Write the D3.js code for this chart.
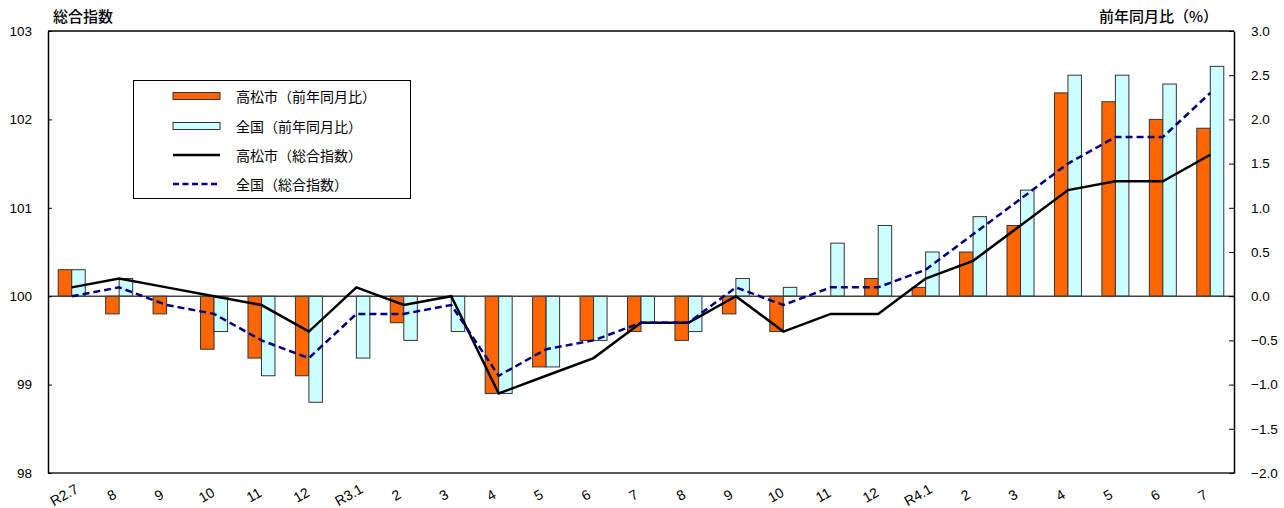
<!DOCTYPE html>
<html><head><meta charset="utf-8">
<script src="https://cdn.jsdelivr.net/npm/d3@7"></script>
<style>
html,body{margin:0;padding:0;background:#fff;}
svg{display:block;}
</style></head>
<body>
<svg id="chart" width="1284" height="508"></svg>
<script>
const categories = ["R2.7","8","9","10","11","12","R3.1","2","3","4","5","6","7","8","9","10","11","12","R4.1","2","3","4","5","6","7"];
const takamatsuYoY = [0.3,-0.2,-0.2,-0.6,-0.7,-0.9,0.0,-0.3,0.0,-1.1,-0.8,-0.5,-0.4,-0.5,-0.2,-0.4,0.0,0.2,0.1,0.5,0.8,2.3,2.2,2.0,1.9];
const nationalYoY = [0.3,0.2,0.0,-0.4,-0.9,-1.2,-0.7,-0.5,-0.4,-1.1,-0.8,-0.5,-0.3,-0.4,0.2,0.1,0.6,0.8,0.5,0.9,1.2,2.5,2.5,2.4,2.6];
const takamatsuIndex = [100.1,100.2,100.1,100.0,99.9,99.6,100.1,99.9,100.0,98.9,99.1,99.3,99.7,99.7,100.0,99.6,99.8,99.8,100.2,100.4,100.8,101.2,101.3,101.3,101.6];
const nationalIndex = [100.0,100.1,99.9,99.8,99.5,99.3,99.8,99.8,99.9,99.1,99.4,99.5,99.7,99.7,100.1,99.9,100.1,100.1,100.3,100.7,101.1,101.5,101.8,101.8,102.3];
const leftTicks = [98,99,100,101,102,103];
const rightTicks = [-2.0,-1.5,-1.0,-0.5,0.0,0.5,1.0,1.5,2.0,2.5,3.0];
const legendLabels = ["高松市（前年同月比）","全国（前年同月比）","高松市（総合指数）","全国（総合指数）"];

const L = 48, R = 1234, T = 31, B = 473;
const svg = d3.select("#chart");
const numFont = "'Liberation Sans', Arial, sans-serif";
const jpFont = "'Noto Sans CJK JP', sans-serif";

const x = d3.scaleBand().domain(categories.map((d,i)=>i)).range([L,R]).padding(0);
const yL = d3.scaleLinear().domain([98,103]).range([B,T]);
const yR = d3.scaleLinear().domain([-2,3]).range([B,T]);
const bw = 13.5;
const cx = i => x(i) + x.bandwidth()/2;

// bars
const g = svg.append("g");
g.selectAll("rect.tk").data(takamatsuYoY).join("rect")
  .attr("x",(d,i)=>cx(i)-bw).attr("width",bw)
  .attr("y",d=>yR(Math.max(0,d))).attr("height",d=>Math.abs(yR(d)-yR(0)))
  .attr("fill","#FF6600").attr("stroke","#333").attr("stroke-width",1)
  .style("display",d=>d===0?"none":null);
g.selectAll("rect.nt").data(nationalYoY).join("rect")
  .attr("x",(d,i)=>cx(i)).attr("width",bw)
  .attr("y",d=>yR(Math.max(0,d))).attr("height",d=>Math.abs(yR(d)-yR(0)))
  .attr("fill","#CCFFFF").attr("stroke","#333").attr("stroke-width",1)
  .style("display",d=>d===0?"none":null);

// zero line
svg.append("line").attr("x1",L).attr("x2",R).attr("y1",yR(0)).attr("y2",yR(0))
  .attr("stroke","#444").attr("stroke-width",1.5);

// lines
const line = d3.line().x((d,i)=>cx(i)).y(d=>yL(d));
svg.append("path").datum(takamatsuIndex).attr("d",line)
  .attr("fill","none").attr("stroke","#000").attr("stroke-width",2.5).attr("stroke-linejoin","miter");
svg.append("path").datum(nationalIndex).attr("d",line)
  .attr("fill","none").attr("stroke","#000080").attr("stroke-width",2.5).attr("stroke-dasharray","7,4");

// frame
svg.append("line").attr("x1",L).attr("x2",R).attr("y1",T).attr("y2",T).attr("stroke","#000").attr("stroke-width",1.5);
svg.append("line").attr("x1",L).attr("x2",R).attr("y1",B).attr("y2",B).attr("stroke","#222").attr("stroke-width",1.5);

// left axis
const axL = svg.append("g").attr("transform",`translate(${L},0)`)
  .call(d3.axisLeft(yL).tickValues(leftTicks).tickSizeInner(-4).tickSizeOuter(0).tickPadding(16).tickFormat(d3.format("d")));
axL.select(".domain").attr("stroke","#000").attr("stroke-width",1.5);
axL.selectAll("text").attr("font-family",numFont).attr("font-size",13.5).attr("fill","#000");

// right axis
const axR = svg.append("g").attr("transform",`translate(${R},0)`)
  .call(d3.axisRight(yR).tickValues(rightTicks).tickSizeInner(-5).tickSizeOuter(0).tickPadding(17).tickFormat(d3.format(".1f")));
axR.select(".domain").attr("stroke","#000").attr("stroke-width",1.5);
axR.selectAll("text").attr("font-family",numFont).attr("font-size",13.5).attr("fill","#000");

// x labels
svg.append("g").selectAll("text").data(categories).join("text")
  .attr("transform",(d,i)=>`translate(${cx(i)-7},${496}) rotate(-30)`)
  .attr("text-anchor","middle").attr("dominant-baseline","middle")
  .attr("font-family",numFont).attr("font-size",14).text(d=>d);

// titles
svg.append("text").attr("x",53).attr("y",22).attr("font-family",jpFont).attr("font-size",15).attr("font-weight",500).text("総合指数");
svg.append("text").attr("x",1218).attr("y",22).attr("text-anchor","end").attr("font-family",jpFont).attr("font-size",15).attr("font-weight",500).text("前年同月比（%）");

// legend
const lg = svg.append("g");
lg.append("rect").attr("x",133.5).attr("y",80.5).attr("width",277).attr("height",118)
  .attr("fill","#fff").attr("stroke","#000").attr("stroke-width",1);
const rows = [96,126,155,184];
const sw0 = 173, sw1 = 220;
lg.append("rect").attr("x",sw0).attr("y",rows[0]-3.5).attr("width",sw1-sw0).attr("height",7).attr("fill","#FF6600").attr("stroke","#333");
lg.append("rect").attr("x",sw0).attr("y",rows[1]-3.5).attr("width",sw1-sw0).attr("height",7).attr("fill","#CCFFFF").attr("stroke","#333");
lg.append("line").attr("x1",sw0).attr("x2",sw1).attr("y1",rows[2]).attr("y2",rows[2]).attr("stroke","#000").attr("stroke-width",2.5);
lg.append("line").attr("x1",sw0).attr("x2",sw1).attr("y1",rows[3]).attr("y2",rows[3]).attr("stroke","#000080").attr("stroke-width",2.5).attr("stroke-dasharray","6,3.5");
lg.selectAll("text").data(legendLabels).join("text")
  .attr("x",236).attr("y",(d,i)=>rows[i]).attr("dominant-baseline","central")
  .attr("font-family",jpFont).attr("font-size",14).text(d=>d);
</script>
</body></html>
